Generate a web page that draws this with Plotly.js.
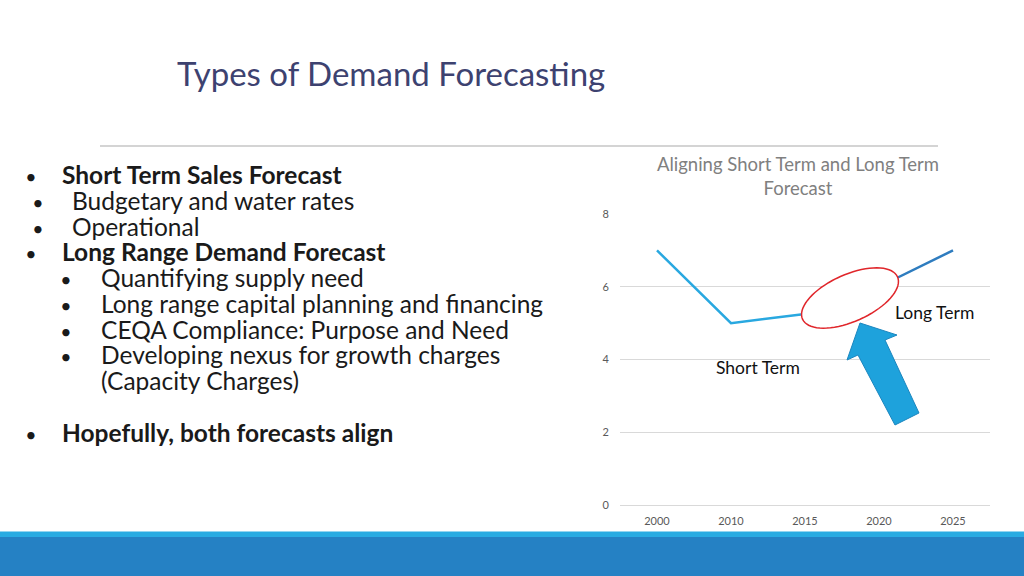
<!DOCTYPE html>
<html>
<head>
<meta charset="utf-8">
<script src="https://cdn.plot.ly/plotly-3.0.1.min.js"></script>
<style>
html,body{margin:0;padding:0;background:#fff;}
#chart{width:1024px;height:576px;}
</style>
</head>
<body>
<div id="chart"></div>
<script>
// ---- Data ----
const years = ['2000', '2010', '2015', '2020', '2025'];
const shortTerm = [7, 5, 5.25, null, null];
const longTerm = [null, null, null, 6, 7];
const yTickVals = [0, 2, 4, 6, 8];

const slideTitle = 'Types of Demand Forecasting';
const chartTitle = 'Aligning Short Term and Long Term<br>Forecast';
const shortLabel = 'Short Term';
const longLabel = 'Long Term';

// bullet list: level (0,1,2), bullet shown?, bold?, text ; null = blank line
const bulletLevels = [0, 1, 1, 0, 2, 2, 2, 2, 2, null, 0];
const bulletShown = [true, true, true, true, true, true, true, true, false, null, true];
const bulletBold = [true, false, false, true, false, false, false, false, false, null, true];
const bulletTexts = [
  'Short Term Sales Forecast',
  'Budgetary and water rates',
  'Operational',
  'Long Range Demand Forecast',
  'Quantifying supply need',
  'Long range capital planning and financing',
  'CEQA Compliance: Purpose and Need',
  'Developing nexus for growth charges',
  '(Capacity Charges)',
  null,
  'Hopefully, both forecasts align'
];

// ---- Layout helpers (pixel -> paper) ----
const W = 1024, H = 576;
const px = x => x / W;
const py = y => 1 - y / H;
const FONTNAME = 'Lato';
const FONT = 'Lato, "Open Sans", sans-serif';

// text measurement for indentation of the bullet block
const ctx = document.createElement('canvas').getContext('2d');
function tw(str, size, bold) {
  ctx.font = (bold ? 'bold ' : '') + size + 'px ' + FONTNAME;
  return ctx.measureText(str).width;
}
const NB = '\u00a0';
function spacer(w, size) {
  if (w <= 0.2) return '';
  const sw = tw(NB, size);
  const n = Math.floor(w / sw);
  let out = '';
  if (n > 0) out += '<span style="font-size:' + size + 'px">' + NB.repeat(n) + '</span>';
  const rem = w - n * sw;
  if (rem > 0.2) {
    const perPx = tw(NB, 100) / 100;
    out += '<span style="font-size:' + (rem / perPx).toFixed(2) + 'px">' + NB + '</span>';
  }
  return out;
}

const traces = [
  {x: years, y: shortTerm, type: 'scatter', mode: 'lines', name: 'Short Term',
   line: {color: '#29a8e0', width: 2.5}, connectgaps: false, hoverinfo: 'skip'},
  {x: years, y: longTerm, type: 'scatter', mode: 'lines', name: 'Long Term',
   line: {color: '#2e7cbf', width: 2.5}, connectgaps: false, hoverinfo: 'skip'}
];

const annotations = [];
// slide title
annotations.push({text: slideTitle, xref: 'paper', yref: 'paper', x: px(391), y: py(73),
  xanchor: 'center', yanchor: 'middle', showarrow: false,
  font: {family: FONT, size: 33, color: '#3d4270'}});

// bullet list as a single multi-line text block
const lineY0 = 175, lineStep = 25.75;
const baseSize = lineStep / 1.3;
const TEXT_SIZE = 24.5, BULLET_SIZE = 19.5;
const bulletCX = [30, 37, 65], textPen = [61, 71, 100];
const blockX = 18, penStart = 19;
const bw = tw('•', BULLET_SIZE);
const lines = bulletTexts.map((t, i) => {
  if (t === null) return spacer(4, TEXT_SIZE);
  const lv = bulletLevels[i];
  let s = '';
  let pen = penStart;
  if (bulletShown[i]) {
    const bl = bulletCX[lv] - bw / 2;
    s += spacer(bl - pen, TEXT_SIZE);
    s += '<span style="font-size:' + BULLET_SIZE + 'px">•</span>';
    pen = bl + bw;
  }
  s += spacer(textPen[lv] - pen, TEXT_SIZE);
  const body = bulletBold[i] ? '<b>' + t + '</b>' : t;
  s += '<span style="font-size:' + TEXT_SIZE + 'px">' + body + '</span>';
  return s;
});
const nLines = bulletTexts.length;
annotations.push({text: lines.join('<br>'), xref: 'paper', yref: 'paper',
  x: px(blockX), y: py(lineY0 + (nLines - 1) * lineStep / 2),
  xanchor: 'left', yanchor: 'middle', align: 'left', showarrow: false,
  font: {family: FONT, size: baseSize, color: '#1a1a1a'}});

// in-chart labels
annotations.push({text: longLabel, xref: 'paper', yref: 'paper', x: px(934), y: py(312),
  xanchor: 'center', yanchor: 'middle', showarrow: false,
  font: {family: FONT, size: 17.5, color: '#111'}});
annotations.push({text: shortLabel, xref: 'paper', yref: 'paper', x: px(758), y: py(367),
  xanchor: 'center', yanchor: 'middle', showarrow: false,
  font: {family: FONT, size: 17.5, color: '#111'}});

// ---- Shapes ----
const shapes = [];
// divider line under slide title
shapes.push({type: 'line', xref: 'paper', yref: 'paper', x0: px(100), x1: px(938), y0: py(146), y1: py(146),
  line: {color: '#d4d4d4', width: 2}});
// bottom bar
shapes.push({type: 'rect', xref: 'paper', yref: 'paper', x0: 0, x1: 1, y0: py(537), y1: py(531.5),
  fillcolor: '#29abe2', line: {width: 0}});
shapes.push({type: 'rect', xref: 'paper', yref: 'paper', x0: 0, x1: 1, y0: 0, y1: py(537),
  fillcolor: '#2581c4', line: {width: 0}});

// tilted ellipse (white fill, red outline)
(function () {
  const cx = 850, cy = 298, a = 52, b = 23.5, th = 24 * Math.PI / 180;
  let d = '';
  for (let k = 0; k <= 72; k++) {
    const t = k / 72 * 2 * Math.PI;
    const ex = a * Math.cos(t), ey = b * Math.sin(t);
    const X = cx + ex * Math.cos(th) - ey * Math.sin(th);
    const Y = cy - (ex * Math.sin(th) + ey * Math.cos(th));
    d += (k === 0 ? 'M' : 'L') + px(X).toFixed(5) + ',' + py(Y).toFixed(5);
  }
  d += 'Z';
  shapes.push({type: 'path', xref: 'paper', yref: 'paper', path: d, layer: 'above',
    fillcolor: '#ffffff', line: {color: '#e0262b', width: 1.5}});
})();

// block arrow
(function () {
  const pts = [[860, 323], [897, 335], [885, 340], [919, 413], [895, 425], [858, 355], [847, 360]];
  const d = pts.map((p, i) => (i === 0 ? 'M' : 'L') + px(p[0]).toFixed(5) + ',' + py(p[1]).toFixed(5)).join('') + 'Z';
  shapes.push({type: 'path', xref: 'paper', yref: 'paper', path: d, layer: 'above',
    fillcolor: '#1ea2dc', line: {color: '#1b86bf', width: 1}});
})();

const layout = {
  width: W, height: H,
  margin: {l: 0, r: 0, t: 0, b: 0},
  paper_bgcolor: '#ffffff', plot_bgcolor: '#ffffff',
  showlegend: false,
  font: {family: FONT},
  title: {text: chartTitle, xref: 'paper', yref: 'paper', x: px(798), xanchor: 'center',
    y: py(171), yanchor: 'middle', font: {family: FONT, size: 18.5, color: '#808080'}},
  xaxis: {type: 'category', domain: [px(620), px(990)], range: [-0.5, 4.5],
    showgrid: false, zeroline: false, showline: false, ticks: '',
    tickfont: {family: FONT, size: 11, color: '#595959'}, ticklabelstandoff: 8, fixedrange: true},
  yaxis: {domain: [py(505), py(214)], range: [0, 8], tickvals: yTickVals,
    showgrid: true, gridcolor: '#d9d9d9', gridwidth: 1,
    zeroline: true, zerolinecolor: '#d9d9d9', zerolinewidth: 1,
    showline: false, ticks: '', tickfont: {family: FONT, size: 11, color: '#595959'},
    ticklabelstandoff: 10, fixedrange: true},
  annotations: annotations,
  shapes: shapes
};

Plotly.newPlot('chart', traces, layout, {staticPlot: true, displayModeBar: false});
</script>
</body>
</html>
